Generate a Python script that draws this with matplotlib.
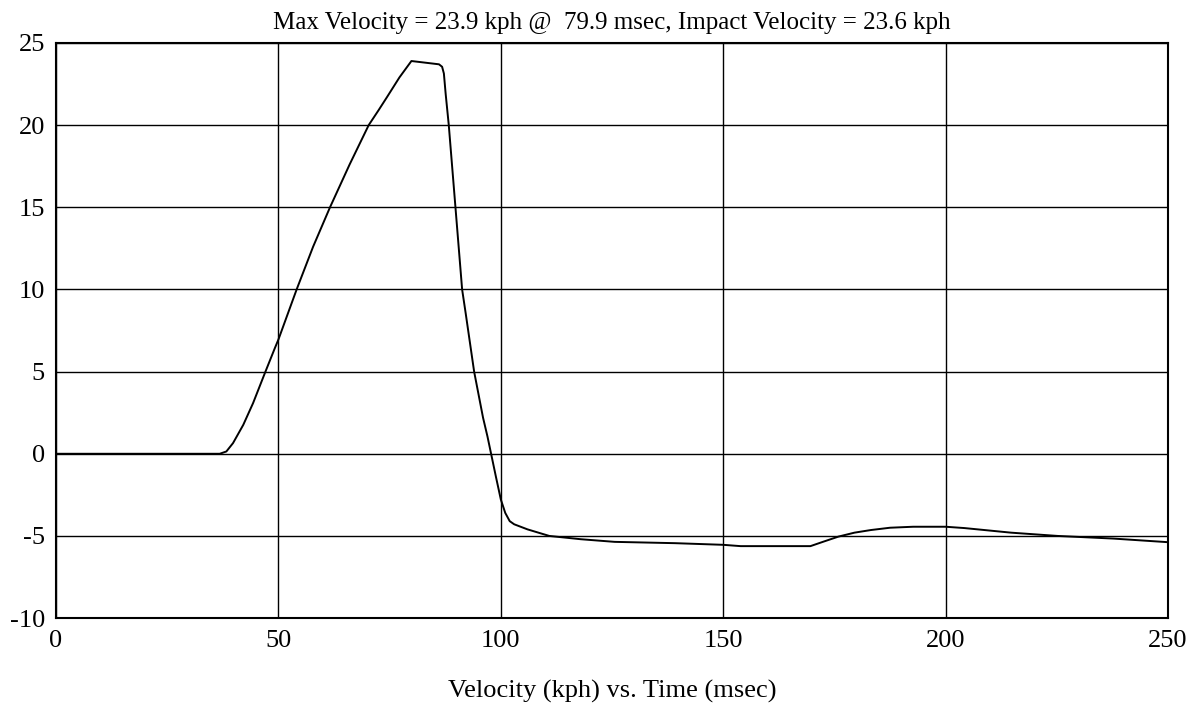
import matplotlib
matplotlib.use("Agg")
import matplotlib.pyplot as plt

time_ms = [0, 20, 36.8, 38.3, 39.8, 42.1, 44.3, 47.0, 49.2, 50, 54.1, 57.8, 61.6, 66, 70.3,
           72.5, 74.4, 77.2, 79.9, 83, 86.1, 86.8, 87.2, 87.6, 88.3, 89.8, 91.3, 92.1, 94.0,
           96.0, 97.0, 98.9, 100, 101.0, 102.0, 103, 106, 110.9, 118, 125.6, 139.2, 150, 153.9,
           169.6, 172.5, 175.9, 179.5, 183.2, 187.5, 192.7, 200, 204.2, 214.7, 225.2, 237.7, 250]
velocity_kph = [0, 0, 0, 0.14, 0.65, 1.76, 3.08, 4.94, 6.43, 6.95, 10.0, 12.6, 15.0, 17.6, 20.0,
                20.9, 21.7, 22.9, 23.9, 23.8, 23.7, 23.55, 23.14, 21.9, 20.0, 15.0, 10.0, 8.55, 5.0,
                2.2, 1.05, -1.4, -2.78, -3.6, -4.1, -4.29, -4.6, -5.0, -5.2, -5.36, -5.44, -5.54, -5.62,
                -5.62, -5.35, -5.04, -4.8, -4.64, -4.5, -4.44, -4.44, -4.52, -4.8, -5.0, -5.16, -5.38]

x_ticks = [0, 50, 100, 150, 200, 250]
y_ticks = [-10, -5, 0, 5, 10, 15, 20, 25]

title = "Max Velocity = 23.9 kph @  79.9 msec, Impact Velocity = 23.6 kph"
xlabel = "Velocity (kph) vs. Time (msec)"

plt.rcParams['font.family'] = ['Liberation Serif', 'DejaVu Serif']
plt.rcParams['axes.unicode_minus'] = False

fig = plt.figure(figsize=(11.99, 7.04), dpi=100)
ax = fig.add_axes([0.0467, 0.122, 0.9275, 0.817])
ax.plot(time_ms, velocity_kph, color='black', linewidth=1.4)
ax.set_xlim(0, 250)
ax.set_ylim(-10, 25)
ax.set_xticks(x_ticks)
ax.set_yticks(y_ticks)
ax.grid(True, color='black', linewidth=1.0)
ax.tick_params(length=0, labelsize=19)
ax.tick_params(axis='x', pad=8.5)
ax.tick_params(axis='y', pad=8)
for s in ax.spines.values():
    s.set_linewidth(1.5)
    s.set_color('black')
ax.set_title(title, fontsize=18, pad=10)
ax.set_xlabel(xlabel, fontsize=19, labelpad=20)
fig.savefig("out.png", dpi=100)
